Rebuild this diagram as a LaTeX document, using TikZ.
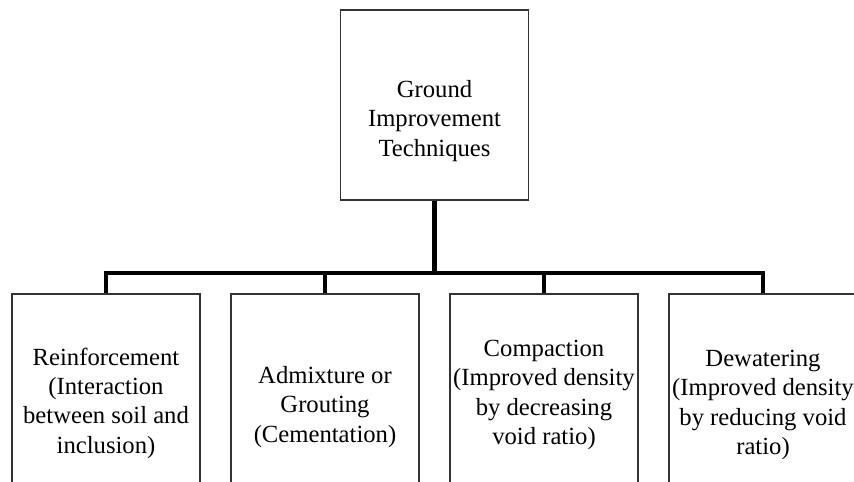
\documentclass[tikz,border=0pt]{standalone}
\usepackage{fontspec}
\setmainfont{Liberation Serif}
\begin{document}
\begin{tikzpicture}[x=0.75pt,y=-0.75pt,>=latex]
\tikzset{
  box/.style={draw=black!80,line width=1.1pt,shape=rectangle,minimum width=141pt,inner sep=0pt},
  txt/.style={align=center,font=\fontsize{18.5}{22}\selectfont,inner sep=0pt},
  link/.style={line width=3.6pt,black}
}
\useasboundingbox (0,0) rectangle (854,482);
\clip (0,0) rectangle (854,482);
\node[box,minimum height=142.5pt] (top) at (434.5,105) {};
\node[txt] (toptxt) at (434.5,121) {Ground\\Improvement\\Techniques};
\node[box,minimum height=169.5pt] (reinf) at (106,407) {};
\node[box,minimum height=169.5pt] (admix) at (325,407) {};
\node[box,minimum height=169.5pt] (compact) at (544,407) {};
\node[box,minimum height=169.5pt] (dewater) at (763,407) {};
\node[txt] (reinftxt) at (106,403) {Reinforcement\\(Interaction\\between soil and\\inclusion)};
\node[txt] (admixtxt) at (325,407) {Admixture or\\Grouting\\(Cementation)};
\node[txt] (compacttxt) at (544,395) {Compaction\\(Improved density\\by decreasing\\void ratio)};
\node[txt] (dewatertxt) at (763,405) {Dewatering\\(Improved density\\by reducing void\\ratio)};
\coordinate (bus) at (434.5,273);
\draw[link] (top.south) -- (bus);
\draw[link] (reinf.north) |- (bus) -| (dewater.north);
\draw[link] (admix.north) -- (admix.north |- bus);
\draw[link] (compact.north) -- (compact.north |- bus);
\end{tikzpicture}
\end{document}
